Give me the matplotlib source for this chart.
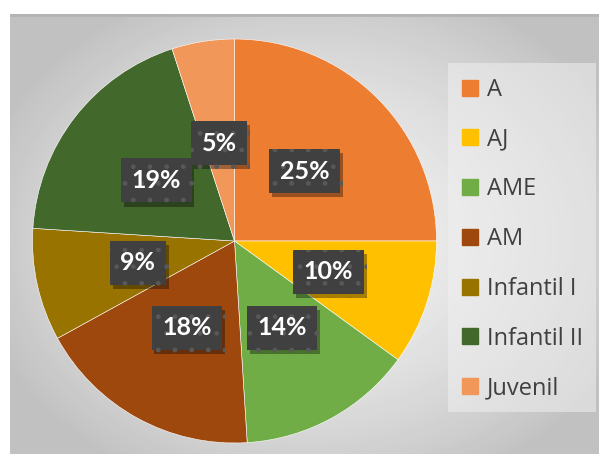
import numpy as np
import matplotlib.pyplot as plt
import matplotlib.patheffects as pe
from matplotlib.lines import Line2D
from matplotlib.patches import Rectangle

categorias = ['A', 'AJ', 'AME', 'AM', 'Infantil I', 'Infantil II', 'Juvenil']
porcentajes = [25, 10, 14, 18, 9, 19, 5]
colores = ['#ED7D31', '#FFC000', '#70AD47', '#9E480E', '#997300', '#43682B', '#F1975A']

W, H = 599, 454
fig = plt.figure(figsize=(W / 100, H / 100), dpi=100)
fig.patch.set_facecolor('white')

# fondo con degradado radial (zona del grafico)
x0, y_top = 10, 14
bg = fig.add_axes([x0 / W, 0, (W - x0) / W, (H - y_top) / H])
yy, xx = np.mgrid[0:440, 0:589]
r = np.sqrt(((xx - 300) / 330.0) ** 2 + ((yy - 225) / 260.0) ** 2)
grad = np.clip(0.95 - 0.18 * r ** 1.6, 0.76, 0.95)
bg.imshow(grad, cmap='gray', vmin=0, vmax=1, aspect='auto', interpolation='bilinear')
bg.axhline(0, color='#b4b4b4', lw=2)
bg.axis('off')

# caja de la leyenda
fig.patches.append(Rectangle((448 / W, 1 - 412 / H), 148 / W, 349 / H, transform=fig.transFigure,
                             facecolor='#f0f0f0', edgecolor='none', alpha=0.55, zorder=1))

# pastel
cx, cy, rad = 234.5, 241, 202
ax = fig.add_axes([(cx - rad) / W, (H - cy - rad) / H, 2 * rad / W, 2 * rad / H])
wedges, texts, autotexts = ax.pie(
    porcentajes, colors=colores, startangle=90, counterclock=False,
    autopct='%1.0f%%', pctdistance=0.49, radius=1,
    wedgeprops=dict(edgecolor='white', linewidth=0.4),
    textprops=dict(color='white', fontsize=18, fontweight='bold', family=['Lato', 'DejaVu Sans']))
ax.set_xlim(-1, 1)
ax.set_ylim(-1, 1)
ax.set_aspect('equal')

plt.rcParams['hatch.color'] = '#585858'
plt.rcParams['hatch.linewidth'] = 1.0
for t in autotexts:
    t.set_bbox(dict(boxstyle='square,pad=0.42', facecolor='#404040', edgecolor='#585858',
                    linewidth=0, hatch='.'))
    t.get_bbox_patch().set_path_effects([
        pe.SimplePatchShadow(offset=(2, -3), shadow_rgbFace='black', alpha=0.35), pe.Normal()])

# leyenda
fs = 17
handles = [Line2D([], [], marker='s', linestyle='none', markersize=11,
                  markerfacecolor=c, markeredgecolor=c) for c in colores]
leg = fig.legend(handles, categorias, loc='upper left',
                 bbox_to_anchor=(459 / W, 1 - 78 / H), frameon=False,
                 labelspacing=1.09, handlelength=0.9, handletextpad=0.28,
                 borderpad=0, borderaxespad=0, prop=dict(family=['Open Sans', 'DejaVu Sans'], size=fs))
for t in leg.get_texts():
    t.set_color('#404040')

fig.savefig('out.png', dpi=100)
